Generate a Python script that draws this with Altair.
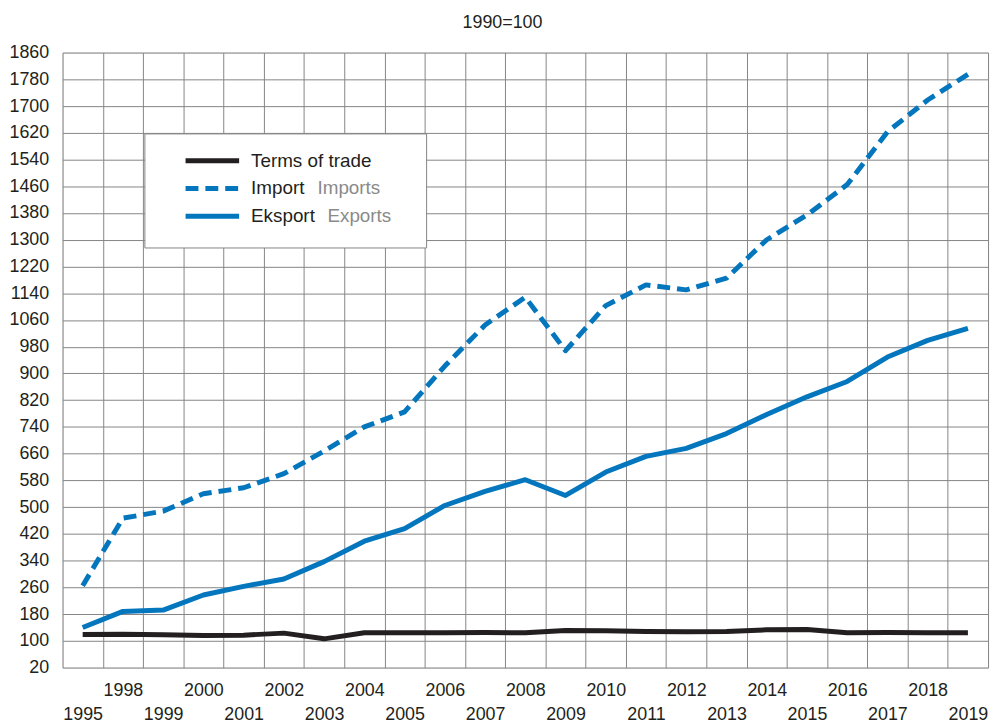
import altair as alt
import pandas as pd

# ---- data (1990 = 100) ----
years = [1995, 1998, 1999, 2000, 2001, 2002, 2003, 2004, 2005, 2006, 2007, 2008,
         2009, 2010, 2011, 2012, 2013, 2014, 2015, 2016, 2017, 2018, 2019]
terms_of_trade = [119, 120, 118, 116, 117, 123, 106, 124, 124, 124, 125, 124,
                  131, 130, 128, 127, 128, 133, 134, 124, 125, 124, 124]
imports = [265, 467, 488, 540, 558, 600, 668, 740, 785, 922, 1045, 1128,
           968, 1103, 1165, 1150, 1185, 1300, 1374, 1465, 1623, 1718, 1795]
exports = [140, 188, 192, 237, 263, 285, 337, 398, 436, 505, 547, 582,
           535, 605, 652, 676, 720, 777, 830, 876, 949, 999, 1035]
y_ticks = list(range(20, 1861, 80))

series = {"Terms of trade": terms_of_trade, "Import": imports, "Eksport": exports}
rows = []
for name, vals in series.items():
    for i, (yr, v) in enumerate(zip(years, vals)):
        rows.append({"year": str(yr), "series": name, "value": v, "order": i})
df = pd.DataFrame(rows)

FONT = "Liberation Sans"
TXT = "#231f20"
GRID = "#858585"
BLUE = "#0476bd"
BLACK = "#231f20"

xscale = alt.Scale(type="band", domain=[str(y) for y in years], paddingInner=0, paddingOuter=0)
yscale = alt.Scale(domain=[20, 1860], nice=False, zero=False)

x_axis = alt.Axis(
    title=None, tickBand="extent", grid=True, gridColor=GRID, gridWidth=1,
    domain=False, ticks=False, labelAngle=0, labelFont=FONT, labelFontSize=18,
    labelColor=TXT, labelPadding=14, labelLineHeight=24, labelBaseline="top",
    labelExpr="toNumber(datum.value) % 2 == 0 ? [datum.label, ''] : ['', datum.label]",
)
y_axis = alt.Axis(
    title=None, values=y_ticks, format="d", grid=True, gridColor=GRID, gridWidth=1,
    domain=False, ticks=False, labelFont=FONT, labelFontSize=18, labelColor=TXT,
    labelPadding=14,
)

base = alt.Chart(df).encode(
    x=alt.X("year:O", scale=xscale, axis=x_axis),
    y=alt.Y("value:Q", scale=yscale, axis=y_axis),
    order="order:Q",
)

tot_line = base.transform_filter(alt.datum.series == "Terms of trade").mark_line(
    color=BLACK, strokeWidth=5, strokeJoin="round")
imp_line = base.transform_filter(alt.datum.series == "Import").mark_line(
    color=BLUE, strokeWidth=5, strokeDash=[13, 7], strokeJoin="round")
exp_line = base.transform_filter(alt.datum.series == "Eksport").mark_line(
    color=BLUE, strokeWidth=5, strokeJoin="round")

# ---- custom legend ----
one = alt.Data(values=[{"k": 0}])
legend_box = alt.Chart(one).mark_rect(fill="white", stroke=GRID, strokeWidth=1).encode(
    x=alt.value(83), x2=alt.value(367), y=alt.value(82), y2=alt.value(197))

legend_layers = [legend_box]
legend_items = [
    ("Terms of trade", "", BLACK, None, 109, 0),
    ("Import", "Imports", BLUE, [13, 7], 137, 257),
    ("Eksport", "Exports", BLUE, None, 165, 267),
]
for main, sub, col, dash, ypx, subx in legend_items:
    rule_kw = dict(color=col, strokeWidth=5)
    if dash:
        rule_kw["strokeDash"] = dash
    legend_layers.append(alt.Chart(one).mark_rule(**rule_kw).encode(
        x=alt.value(124), x2=alt.value(178), y=alt.value(ypx)))
    legend_layers.append(alt.Chart(one).mark_text(
        text=main, align="left", baseline="middle", font=FONT, fontSize=19, color=TXT
    ).encode(x=alt.value(190), y=alt.value(ypx)))
    if sub:
        legend_layers.append(alt.Chart(one).mark_text(
            text=sub, align="left", baseline="middle", font=FONT, fontSize=19, color="#8a8a8a"
        ).encode(x=alt.value(subx), y=alt.value(ypx)))

chart = alt.layer(tot_line, imp_line, exp_line, *legend_layers).properties(
    width=933, height=620,
    autosize=alt.AutoSizeParams(type="none"),
    padding={"left": 55, "top": 42, "right": 5, "bottom": 60},
    title=alt.TitleParams("1990=100", font=FONT, fontSize=18, fontWeight="normal",
                          color=TXT, anchor="middle", dx=-23, offset=12),
).configure_view(stroke=GRID, strokeWidth=1).configure(background="white")

chart.save("out.html", embed_options={"renderer": "svg", "actions": False})
